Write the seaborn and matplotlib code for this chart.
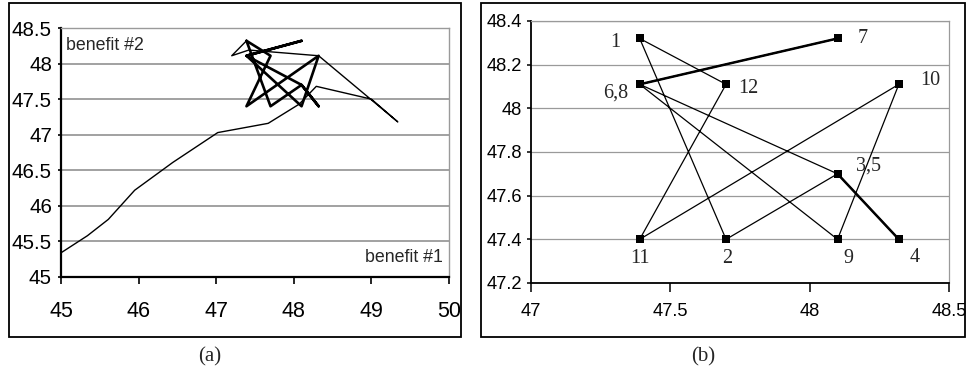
import matplotlib
matplotlib.use("Agg")
import matplotlib.pyplot as plt
from matplotlib.patches import Rectangle
import seaborn as sns
import pandas as pd

# Transient approach of the benefit pair toward the periodic regime
approach_b1 = [45.00, 45.34, 45.61, 45.95, 46.44, 47.02, 47.67, 48.07, 48.29, 49.00, 49.34, 48.32, 47.42, 47.20]
approach_b2 = [45.34, 45.58, 45.81, 46.22, 46.61, 47.03, 47.16, 47.43, 47.68, 47.50, 47.18, 48.11, 48.19, 48.11]

# Periodic cycle, states 1..12 (closed back to state 1)
cycle_step = [1, 2, 3, 4, 5, 6, 7, 8, 9, 10, 11, 12]
cycle_b1 = [47.39, 47.70, 48.10, 48.32, 48.10, 47.39, 48.10, 47.39, 48.10, 48.32, 47.39, 47.70]
cycle_b2 = [48.32, 47.40, 47.70, 47.40, 47.70, 48.11, 48.32, 48.11, 47.40, 48.11, 47.40, 48.11]

# Point labels of panel (b)
point_labels = ["1", "12", "6,8", "7", "10", "3,5", "11", "2", "9", "4"]
label_points = [1, 12, 6, 7, 10, 3, 11, 2, 9, 4]
label_offsets = [(-24, 4), (22, 4), (-24, 9), (25, 0), (31, -4), (31, -8), (0, 19), (1, 19), (11, 19), (16, 18)]

a_xticks = [45, 46, 47, 48, 49, 50]
a_yticks = [45, 45.5, 46, 46.5, 47, 47.5, 48, 48.5]
a_yticklabels = ["45", "45.5", "46", "46.5", "47", "47.5", "48", "48.5"]
b_xticks = [47, 47.5, 48, 48.5]
b_xticklabels = ["47", "47.5", "48", "48.5"]
b_yticks = [47.2, 47.4, 47.6, 47.8, 48.0, 48.2, 48.4]
b_yticklabels = ["47.2", "47.4", "47.6", "47.8", "48", "48.2", "48.4"]

sns.set_style("white")
plt.rcParams["font.family"] = ["Liberation Sans", "DejaVu Sans"]
SERIF = ["Liberation Serif", "DejaVu Serif"]

W, H = 968, 376
fig = plt.figure(figsize=(W / 100, H / 100), dpi=100)


def frac(x0, y0, x1, y1):
    return [x0 / W, 1 - y1 / H, (x1 - x0) / W, (y1 - y0) / H]


# outer frames around each panel
for x0, x1 in [(9, 461), (481, 965)]:
    l, b, w, h = frac(x0, 3, x1, 337)
    fig.patches.append(Rectangle((l, b), w, h, transform=fig.transFigure,
                                 fill=False, edgecolor="black", linewidth=1.3))

closed_b1 = cycle_b1 + cycle_b1[:1]
closed_b2 = cycle_b2 + cycle_b2[:1]

# ---------------- panel (a) ----------------
axa = fig.add_axes(frac(61, 28, 449, 277))
approach = pd.DataFrame({"b1": approach_b1 + cycle_b1[:1], "b2": approach_b2 + cycle_b2[:1]})
loop = pd.DataFrame({"b1": closed_b1, "b2": closed_b2})
sns.lineplot(data=approach, x="b1", y="b2", sort=False, estimator=None,
             color="black", linewidth=1.0, ax=axa)
sns.lineplot(data=loop, x="b1", y="b2", sort=False, estimator=None,
             color="black", linewidth=1.9, ax=axa)
axa.set_xlim(45, 50)
axa.set_ylim(45, 48.5)
axa.set_xticks(a_xticks)
axa.set_xticklabels([str(t) for t in a_xticks])
axa.set_yticks(a_yticks)
axa.set_yticklabels(a_yticklabels)
axa.set_xlabel("")
axa.set_ylabel("")
axa.yaxis.grid(True, color="#9a9a9a", linewidth=1.3)
axa.set_axisbelow(True)
for side in ["left", "bottom"]:
    axa.spines[side].set_color("black")
    axa.spines[side].set_linewidth(1.6)
for side in ["right", "top"]:
    axa.spines[side].set_color("#9a9a9a")
    axa.spines[side].set_linewidth(1.0)
axa.tick_params(axis="x", direction="out", length=5, width=1.2, pad=12.5,
                labelsize=15.5, colors="black", bottom=True)
axa.tick_params(axis="y", direction="out", length=2.5, width=1.2, pad=4,
                labelsize=14.8, colors="black", left=True)
axa.text(0.012, 0.93, "benefit #2", transform=axa.transAxes, fontsize=12.8,
         ha="left", va="center")
axa.text(0.985, 0.078, "benefit #1", transform=axa.transAxes, fontsize=12.8,
         ha="right", va="center")

# ---------------- panel (b) ----------------
axb = fig.add_axes(frac(531, 21, 949, 283))
cyc = pd.DataFrame({"b1": closed_b1, "b2": closed_b2})
sns.lineplot(data=cyc, x="b1", y="b2", sort=False, estimator=None,
             color="black", linewidth=0.9, ax=axb)
# segments visited twice per period are drawn heavier
seg_count = {}
for i in range(len(cycle_b1)):
    p = (cycle_b1[i], cycle_b2[i])
    q = (closed_b1[i + 1], closed_b2[i + 1])
    key = tuple(sorted([p, q]))
    seg_count[key] = seg_count.get(key, 0) + 1
for (p, q), n in seg_count.items():
    if n > 1:
        seg = pd.DataFrame({"b1": [p[0], q[0]], "b2": [p[1], q[1]]})
        sns.lineplot(data=seg, x="b1", y="b2", sort=False, estimator=None,
                     color="black", linewidth=1.8, ax=axb)
pts = pd.DataFrame({"b1": cycle_b1, "b2": cycle_b2})
sns.scatterplot(data=pts, x="b1", y="b2", marker="s", s=32, color="black",
                edgecolor="black", linewidth=0, ax=axb, zorder=5)
for txt, step, (dx, dy) in zip(point_labels, label_points, label_offsets):
    i = cycle_step.index(step)
    axb.annotate(txt, (cycle_b1[i], cycle_b2[i]), xytext=(dx, -dy),
                 textcoords="offset pixels", ha="center", va="center",
                 fontsize=14.5, family=SERIF)
axb.set_xlim(47, 48.5)
axb.set_ylim(47.2, 48.4)
axb.set_xticks(b_xticks)
axb.set_xticklabels(b_xticklabels)
axb.set_yticks(b_yticks)
axb.set_yticklabels(b_yticklabels)
axb.set_xlabel("")
axb.set_ylabel("")
axb.yaxis.grid(True, color="#9a9a9a", linewidth=0.9)
axb.set_axisbelow(True)
for side in ["left", "bottom"]:
    axb.spines[side].set_color("black")
    axb.spines[side].set_linewidth(1.3)
for side in ["right", "top"]:
    axb.spines[side].set_color("#9a9a9a")
    axb.spines[side].set_linewidth(0.9)
axb.tick_params(axis="x", direction="out", length=6.5, width=1.1, pad=8,
                labelsize=13.2, colors="black", bottom=True)
axb.tick_params(axis="y", direction="out", length=3, width=1.1, pad=3.5,
                labelsize=13.2, colors="black", left=True)

# captions
for cx, cap in [(210, "(a)"), (703, "(b)")]:
    fig.text(cx / W, 1 - 357 / H, cap, ha="center", va="center", fontsize=15,
             family=SERIF)

fig.savefig("out.png", dpi=100)
